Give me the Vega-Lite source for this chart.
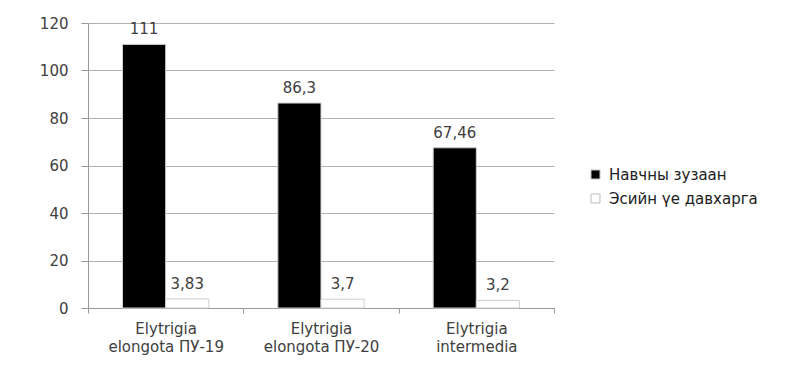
{
  "$schema": "https://vega.github.io/schema/vega-lite/v6.json",
  "width": 466,
  "height": 285,
  "autosize": {"type": "none"},
  "padding": {"left": 88, "top": 23, "right": 237, "bottom": 62},
  "background": "white",
  "config": {
    "font": "DejaVu Sans",
    "view": {"stroke": null},
    "axis": {"labelFont": "DejaVu Sans", "labelColor": "#404040", "domainColor": "#999999", "tickColor": "#999999"}
  },
  "data": {
    "values": [
      {"species": "Elytrigia elongota ПУ-19", "series": "Навчны зузаан", "value": 111, "label": "111"},
      {"species": "Elytrigia elongota ПУ-19", "series": "Эсийн үе давхарга", "value": 3.83, "label": "3,83"},
      {"species": "Elytrigia elongota ПУ-20", "series": "Навчны зузаан", "value": 86.3, "label": "86,3"},
      {"species": "Elytrigia elongota ПУ-20", "series": "Эсийн үе давхарга", "value": 3.7, "label": "3,7"},
      {"species": "Elytrigia intermedia", "series": "Навчны зузаан", "value": 67.46, "label": "67,46"},
      {"species": "Elytrigia intermedia", "series": "Эсийн үе давхарга", "value": 3.2, "label": "3,2"}
    ]
  },
  "encoding": {
    "x": {
      "field": "species", "type": "nominal", "sort": null,
      "scale": {"paddingInner": 0, "paddingOuter": 0},
      "axis": {
        "title": null, "labelAngle": 0, "tickBand": "extent", "tickSize": 5,
        "labelFontSize": 15, "labelPadding": 8, "labelLineHeight": 18,
        "labelExpr": "!isString(datum.value) ? '' : datum.value == 'Elytrigia intermedia' ? ['Elytrigia', 'intermedia'] : ['Elytrigia', replace(datum.value, 'Elytrigia ', '')]"
      }
    },
    "xOffset": {
      "field": "series", "type": "nominal", "sort": ["Навчны зузаан", "Эсийн үе давхарга"],
      "scale": {"paddingInner": 0, "paddingOuter": 0.8}
    },
    "y": {
      "field": "value", "type": "quantitative",
      "scale": {"domain": [0, 120]},
      "axis": {
        "title": null, "values": [0, 20, 40, 60, 80, 100, 120], "gridColor": "#b0b0b0",
        "tickSize": 7, "labelPadding": 13, "labelFontSize": 15
      }
    }
  },
  "layer": [
    {
      "mark": {"type": "bar", "stroke": "#cfcfcf", "strokeWidth": 1},
      "encoding": {
        "fill": {
          "field": "series", "type": "nominal", "sort": ["Навчны зузаан", "Эсийн үе давхарга"],
          "scale": {"range": ["#000000", "#ffffff"]},
          "legend": {
            "title": null, "orient": "none", "legendX": 500, "legendY": 144,
            "symbolType": "square", "symbolSize": 80, "symbolStrokeColor": "#bbbbbb",
            "symbolStrokeWidth": 1, "labelFontSize": 15, "labelColor": "#202020",
            "rowPadding": 8, "labelOffset": 6
          }
        }
      }
    },
    {
      "mark": {"type": "text", "baseline": "bottom", "dy": -7, "fontSize": 15, "color": "#404040"},
      "encoding": {"text": {"field": "label"}}
    }
  ]
}
